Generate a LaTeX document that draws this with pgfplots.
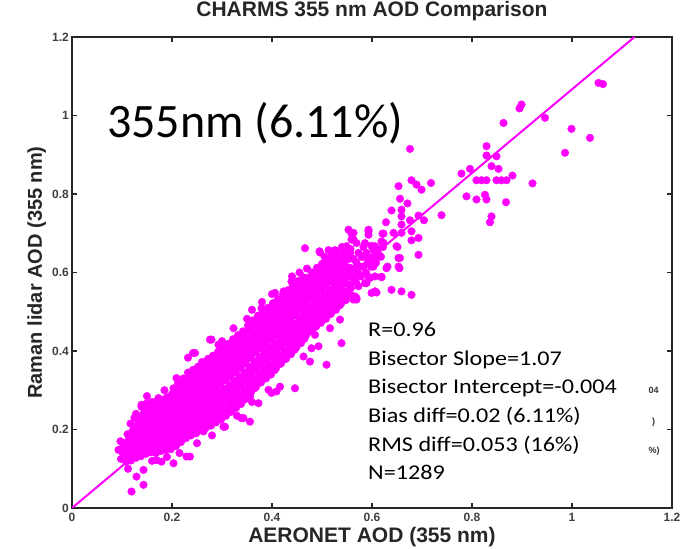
\documentclass[border=0pt]{standalone}
\usepackage{pgfplots}
\pgfplotsset{compat=1.18}
\usepackage{fontspec}
\setmainfont{Liberation Sans}
\newfontfamily\arialfont{Liberation Sans}
\newfontfamily\calfont{Carlito}
\definecolor{mag}{RGB}{255,0,255}
\begin{document}
\begin{tikzpicture}
\path[use as bounding box] (0,0) rectangle (694pt,549pt);
\begin{axis}[
  at={(72pt,41pt)}, anchor=south west,
  width=600pt, height=471pt, scale only axis,
  xmin=0, xmax=1.2, ymin=0, ymax=1.2,
  axis line style={black!85, line width=2pt},
  xtick={0,0.2,0.4,0.6,0.8,1,1.2},
  ytick={0,0.2,0.4,0.6,0.8,1,1.2},
  xticklabels={0,0.2,0.4,0.6,0.8,1,1.2},
  yticklabels={0,0.2,0.4,0.6,0.8,1,1.2},
  tick align=inside,
  major tick length=5pt,
  tick style={black!85, line width=1.3pt},
  /pgf/number format/assume math mode=true,
  ticklabel style={font=\arialfont\bfseries\fontsize{12}{14}\selectfont, text=black!75},
  xticklabel style={inner sep=0pt, yshift=-5pt},
  yticklabel style={inner sep=0pt, xshift=-3pt},
  title={CHARMS 355 nm AOD Comparison},
  title style={font=\arialfont\bfseries\fontsize{21}{24}\selectfont, text=black!85, at={(axis description cs:0.5,1)}, anchor=base, inner sep=0pt, yshift=14pt},
  xlabel={AERONET AOD (355 nm)},
  xlabel style={font=\arialfont\bfseries\fontsize{21}{25}\selectfont, text=black!85, at={(axis description cs:0.5,0)}, anchor=base, inner sep=0pt, yshift=-35pt},
  ylabel={Raman lidar AOD (355 nm)},
  ylabel style={font=\arialfont\bfseries\fontsize{20}{24}\selectfont, text=black!85, at={([xshift=-30pt]axis description cs:0,0.5)}, anchor=base, inner sep=0pt},
  clip=true,
]
\addplot[mag, line width=2pt, no marks] coordinates {(0,0) (1.125,1.2)};
\addplot[only marks, mark=*, mark size=3.8pt, mag, mark options={draw=mag, fill=mag}] coordinates {
(0.098,0.125)(0.101,0.142)(0.104,0.160)(0.097,0.170)
(0.108,0.118)(0.112,0.135)(0.109,0.152)(0.113,0.171)(0.111,0.188)
(0.118,0.121)(0.122,0.140)(0.119,0.158)(0.124,0.176)(0.121,0.196)(0.117,0.215)
(0.128,0.128)(0.131,0.146)(0.127,0.165)(0.133,0.183)(0.129,0.202)(0.132,0.222)(0.128,0.240)
(0.138,0.132)(0.142,0.150)(0.139,0.170)(0.143,0.188)(0.137,0.207)(0.141,0.226)(0.144,0.244)(0.139,0.258)
(0.148,0.138)(0.152,0.156)(0.149,0.174)(0.153,0.193)(0.147,0.211)(0.151,0.230)(0.154,0.248)(0.149,0.266)
(0.158,0.142)(0.162,0.160)(0.159,0.179)(0.163,0.197)(0.157,0.215)(0.161,0.234)(0.164,0.252)(0.160,0.270)
(0.168,0.140)(0.172,0.158)(0.169,0.177)(0.173,0.196)(0.167,0.214)(0.171,0.233)(0.174,0.251)(0.170,0.272)
(0.178,0.145)(0.182,0.164)(0.179,0.183)(0.183,0.202)(0.177,0.220)(0.181,0.239)(0.184,0.257)(0.180,0.276)
(0.188,0.148)(0.192,0.167)(0.189,0.186)(0.193,0.205)(0.187,0.224)(0.191,0.243)(0.194,0.262)(0.190,0.282)
(0.198,0.150)(0.202,0.170)(0.199,0.190)(0.203,0.210)(0.197,0.229)(0.201,0.249)(0.204,0.268)(0.200,0.290)(0.203,0.305)
(0.208,0.158)(0.212,0.177)(0.209,0.196)(0.213,0.216)(0.207,0.235)(0.211,0.255)(0.214,0.274)(0.210,0.294)(0.212,0.318)
(0.218,0.168)(0.222,0.188)(0.219,0.207)(0.223,0.227)(0.217,0.246)(0.221,0.266)(0.224,0.285)(0.220,0.305)(0.223,0.330)
(0.228,0.178)(0.232,0.198)(0.229,0.218)(0.233,0.238)(0.227,0.258)(0.231,0.278)(0.234,0.298)(0.230,0.318)(0.232,0.345)
(0.238,0.185)(0.242,0.205)(0.239,0.226)(0.243,0.246)(0.237,0.266)(0.241,0.287)(0.244,0.307)(0.240,0.328)(0.242,0.352)
(0.248,0.190)(0.252,0.211)(0.249,0.232)(0.253,0.252)(0.247,0.273)(0.251,0.294)(0.254,0.314)(0.250,0.335)(0.252,0.360)
(0.258,0.198)(0.262,0.219)(0.259,0.240)(0.263,0.261)(0.257,0.282)(0.261,0.303)(0.264,0.323)(0.260,0.344)(0.262,0.368)
(0.268,0.205)(0.272,0.226)(0.269,0.248)(0.273,0.269)(0.267,0.290)(0.271,0.311)(0.274,0.332)(0.270,0.353)(0.272,0.380)
(0.278,0.210)(0.282,0.232)(0.279,0.254)(0.283,0.276)(0.277,0.298)(0.281,0.320)(0.284,0.341)(0.280,0.362)(0.282,0.388)
(0.288,0.218)(0.292,0.240)(0.289,0.262)(0.293,0.284)(0.287,0.306)(0.291,0.328)(0.294,0.350)(0.290,0.372)(0.292,0.398)
(0.298,0.225)(0.302,0.248)(0.299,0.270)(0.303,0.292)(0.297,0.315)(0.301,0.337)(0.304,0.359)(0.300,0.382)(0.302,0.408)
(0.308,0.235)(0.312,0.258)(0.309,0.280)(0.313,0.302)(0.307,0.325)(0.311,0.347)(0.314,0.369)(0.310,0.392)(0.312,0.418)
(0.318,0.245)(0.322,0.268)(0.319,0.290)(0.323,0.313)(0.317,0.335)(0.321,0.358)(0.324,0.380)(0.320,0.403)(0.322,0.430)
(0.328,0.255)(0.332,0.278)(0.329,0.300)(0.333,0.323)(0.327,0.346)(0.331,0.368)(0.334,0.391)(0.330,0.414)(0.332,0.440)
(0.338,0.265)(0.342,0.288)(0.339,0.311)(0.343,0.334)(0.337,0.357)(0.341,0.380)(0.344,0.402)(0.340,0.425)(0.342,0.450)
(0.348,0.280)(0.352,0.303)(0.349,0.326)(0.353,0.349)(0.347,0.372)(0.351,0.395)(0.354,0.418)(0.350,0.441)(0.352,0.465)
(0.358,0.295)(0.362,0.318)(0.359,0.340)(0.363,0.363)(0.357,0.386)(0.361,0.409)(0.364,0.432)(0.360,0.455)(0.362,0.478)
(0.368,0.308)(0.372,0.330)(0.369,0.352)(0.373,0.375)(0.367,0.398)(0.371,0.420)(0.374,0.443)(0.370,0.466)(0.372,0.490)
(0.378,0.320)(0.382,0.342)(0.379,0.364)(0.383,0.387)(0.377,0.409)(0.381,0.431)(0.384,0.454)(0.380,0.476)(0.382,0.500)
(0.388,0.330)(0.392,0.352)(0.389,0.375)(0.393,0.397)(0.387,0.420)(0.391,0.442)(0.394,0.465)(0.390,0.487)(0.392,0.510)
(0.398,0.340)(0.402,0.362)(0.399,0.385)(0.403,0.408)(0.397,0.430)(0.401,0.453)(0.404,0.476)(0.400,0.498)(0.402,0.522)
(0.408,0.356)(0.412,0.378)(0.409,0.400)(0.413,0.422)(0.407,0.444)(0.411,0.466)(0.414,0.488)(0.410,0.510)(0.412,0.532)
(0.418,0.368)(0.422,0.390)(0.419,0.412)(0.423,0.434)(0.417,0.456)(0.421,0.478)(0.424,0.500)(0.420,0.522)(0.422,0.544)
(0.428,0.380)(0.432,0.402)(0.429,0.424)(0.433,0.446)(0.427,0.468)(0.431,0.490)(0.434,0.512)(0.430,0.534)(0.432,0.555)
(0.438,0.392)(0.442,0.414)(0.439,0.436)(0.443,0.458)(0.437,0.480)(0.441,0.502)(0.444,0.524)(0.440,0.546)(0.442,0.566)
(0.448,0.408)(0.452,0.430)(0.449,0.451)(0.453,0.473)(0.447,0.494)(0.451,0.516)(0.454,0.537)(0.450,0.558)(0.452,0.578)
(0.458,0.420)(0.462,0.442)(0.459,0.463)(0.463,0.485)(0.457,0.506)(0.461,0.528)(0.464,0.549)(0.460,0.570)(0.462,0.588)
(0.468,0.440)(0.472,0.461)(0.469,0.482)(0.473,0.503)(0.467,0.524)(0.471,0.545)(0.474,0.566)(0.470,0.586)
(0.478,0.450)(0.482,0.471)(0.479,0.492)(0.483,0.513)(0.477,0.534)(0.481,0.555)(0.484,0.576)(0.480,0.600)
(0.488,0.462)(0.492,0.483)(0.489,0.504)(0.493,0.525)(0.487,0.546)(0.491,0.567)(0.494,0.588)(0.490,0.612)
(0.498,0.472)(0.502,0.493)(0.499,0.514)(0.503,0.535)(0.497,0.556)(0.501,0.577)(0.504,0.598)(0.500,0.622)
(0.508,0.482)(0.512,0.503)(0.509,0.524)(0.513,0.545)(0.507,0.566)(0.511,0.587)(0.514,0.608)(0.510,0.632)
(0.518,0.495)(0.522,0.516)(0.519,0.537)(0.523,0.558)(0.517,0.579)(0.521,0.600)(0.524,0.621)(0.520,0.642)
(0.528,0.505)(0.532,0.526)(0.529,0.547)(0.533,0.568)(0.527,0.589)(0.531,0.610)(0.534,0.631)(0.530,0.652)
(0.538,0.520)(0.542,0.541)(0.539,0.562)(0.543,0.583)(0.537,0.604)(0.541,0.625)(0.544,0.646)(0.540,0.665)
(0.548,0.530)(0.552,0.551)(0.549,0.572)(0.553,0.593)(0.547,0.614)(0.551,0.635)(0.554,0.656)
(0.558,0.560)(0.562,0.585)(0.559,0.610)(0.563,0.635)(0.557,0.660)
(0.568,0.575)(0.572,0.600)(0.569,0.625)(0.573,0.650)
(0.578,0.590)(0.582,0.615)(0.579,0.640)(0.583,0.665)
(0.588,0.600)(0.592,0.625)(0.589,0.650)
(0.598,0.615)(0.602,0.640)(0.599,0.668)
(0.608,0.625)(0.612,0.650)
(0.618,0.640)(0.622,0.665)
(0.105,0.133)(0.105,0.151)(0.105,0.165)
(0.115,0.127)(0.115,0.144)(0.115,0.162)(0.115,0.180)
(0.125,0.131)(0.125,0.149)(0.125,0.167)(0.125,0.186)(0.125,0.206)
(0.135,0.137)(0.135,0.156)(0.135,0.175)(0.135,0.193)(0.135,0.212)(0.135,0.231)
(0.145,0.141)(0.145,0.160)(0.145,0.179)(0.145,0.198)(0.145,0.217)(0.145,0.236)(0.145,0.253)
(0.155,0.147)(0.155,0.165)(0.155,0.183)(0.155,0.202)(0.155,0.221)(0.155,0.239)(0.155,0.257)
(0.165,0.151)(0.165,0.169)(0.165,0.188)(0.165,0.206)(0.165,0.225)(0.165,0.243)(0.165,0.261)
(0.175,0.149)(0.175,0.168)(0.175,0.186)(0.175,0.205)(0.175,0.224)(0.175,0.242)(0.175,0.262)
(0.185,0.155)(0.185,0.173)(0.185,0.192)(0.185,0.211)(0.185,0.229)(0.185,0.248)(0.185,0.266)
(0.195,0.158)(0.195,0.177)(0.195,0.196)(0.195,0.214)(0.195,0.233)(0.195,0.252)(0.195,0.272)
(0.205,0.160)(0.205,0.180)(0.205,0.200)(0.205,0.219)(0.205,0.239)(0.205,0.258)(0.205,0.279)(0.205,0.297)
(0.215,0.167)(0.215,0.187)(0.215,0.206)(0.215,0.225)(0.215,0.245)(0.215,0.264)(0.215,0.284)(0.215,0.306)
(0.225,0.178)(0.225,0.197)(0.225,0.217)(0.225,0.236)(0.225,0.256)(0.225,0.275)(0.225,0.295)(0.225,0.317)
(0.235,0.188)(0.235,0.208)(0.235,0.228)(0.235,0.248)(0.235,0.268)(0.235,0.288)(0.235,0.308)(0.235,0.331)
(0.245,0.195)(0.245,0.215)(0.245,0.236)(0.245,0.256)(0.245,0.276)(0.245,0.297)(0.245,0.317)(0.245,0.340)
(0.255,0.200)(0.255,0.221)(0.255,0.242)(0.255,0.262)(0.255,0.283)(0.255,0.304)(0.255,0.324)(0.255,0.347)
(0.265,0.208)(0.265,0.229)(0.265,0.250)(0.265,0.271)(0.265,0.292)(0.265,0.313)(0.265,0.333)(0.265,0.356)
(0.275,0.215)(0.275,0.237)(0.275,0.258)(0.275,0.279)(0.275,0.300)(0.275,0.321)(0.275,0.342)(0.275,0.366)
(0.285,0.221)(0.285,0.243)(0.285,0.265)(0.285,0.287)(0.285,0.309)(0.285,0.330)(0.285,0.351)(0.285,0.375)
(0.295,0.229)(0.295,0.251)(0.295,0.273)(0.295,0.295)(0.295,0.317)(0.295,0.339)(0.295,0.361)(0.295,0.385)
(0.305,0.236)(0.305,0.258)(0.305,0.281)(0.305,0.303)(0.305,0.326)(0.305,0.348)(0.305,0.370)(0.305,0.395)
(0.315,0.246)(0.315,0.269)(0.315,0.291)(0.315,0.313)(0.315,0.336)(0.315,0.358)(0.315,0.380)(0.315,0.405)
(0.325,0.256)(0.325,0.279)(0.325,0.301)(0.325,0.324)(0.325,0.346)(0.325,0.369)(0.325,0.391)(0.325,0.416)
(0.335,0.266)(0.335,0.289)(0.335,0.311)(0.335,0.334)(0.335,0.357)(0.335,0.379)(0.335,0.402)(0.335,0.427)
(0.345,0.276)(0.345,0.299)(0.345,0.322)(0.345,0.345)(0.345,0.368)(0.345,0.391)(0.345,0.413)(0.345,0.437)
(0.355,0.291)(0.355,0.314)(0.355,0.337)(0.355,0.360)(0.355,0.383)(0.355,0.406)(0.355,0.429)(0.355,0.453)
(0.365,0.305)(0.365,0.328)(0.365,0.351)(0.365,0.374)(0.365,0.397)(0.365,0.420)(0.365,0.443)(0.365,0.467)
(0.375,0.319)(0.375,0.341)(0.375,0.363)(0.375,0.386)(0.375,0.409)(0.375,0.431)(0.375,0.454)(0.375,0.478)
(0.385,0.331)(0.385,0.353)(0.385,0.375)(0.385,0.398)(0.385,0.420)(0.385,0.442)(0.385,0.465)(0.385,0.488)
(0.395,0.341)(0.395,0.363)(0.395,0.386)(0.395,0.408)(0.395,0.431)(0.395,0.453)(0.395,0.476)(0.395,0.498)
(0.405,0.351)(0.405,0.373)(0.405,0.396)(0.405,0.419)(0.405,0.441)(0.405,0.464)(0.405,0.487)(0.405,0.510)
(0.415,0.367)(0.415,0.389)(0.415,0.411)(0.415,0.433)(0.415,0.455)(0.415,0.477)(0.415,0.499)(0.415,0.521)
(0.425,0.379)(0.425,0.401)(0.425,0.423)(0.425,0.445)(0.425,0.467)(0.425,0.489)(0.425,0.511)(0.425,0.533)
(0.435,0.391)(0.435,0.413)(0.435,0.435)(0.435,0.457)(0.435,0.479)(0.435,0.501)(0.435,0.523)(0.435,0.545)
(0.445,0.403)(0.445,0.425)(0.445,0.447)(0.445,0.469)(0.445,0.491)(0.445,0.513)(0.445,0.535)(0.445,0.556)
(0.455,0.419)(0.455,0.441)(0.455,0.462)(0.455,0.484)(0.455,0.505)(0.455,0.527)(0.455,0.548)(0.455,0.568)
(0.465,0.431)(0.465,0.452)(0.465,0.474)(0.465,0.495)(0.465,0.517)(0.465,0.538)(0.465,0.559)(0.465,0.579)
(0.475,0.450)(0.475,0.471)(0.475,0.492)(0.475,0.513)(0.475,0.534)(0.475,0.555)(0.475,0.576)
(0.485,0.461)(0.485,0.482)(0.485,0.503)(0.485,0.524)(0.485,0.545)(0.485,0.566)(0.485,0.588)
(0.495,0.472)(0.495,0.493)(0.495,0.514)(0.495,0.535)(0.495,0.556)(0.495,0.577)(0.495,0.600)
(0.505,0.482)(0.505,0.503)(0.505,0.524)(0.505,0.545)(0.505,0.566)(0.505,0.587)(0.505,0.610)
(0.515,0.493)(0.515,0.514)(0.515,0.535)(0.515,0.556)(0.515,0.577)(0.515,0.598)(0.515,0.620)
(0.525,0.505)(0.525,0.526)(0.525,0.547)(0.525,0.568)(0.525,0.589)(0.525,0.610)(0.525,0.632)
(0.535,0.516)(0.535,0.537)(0.535,0.558)(0.535,0.579)(0.535,0.600)(0.535,0.621)(0.535,0.642)
(0.545,0.530)(0.545,0.551)(0.545,0.572)(0.545,0.593)(0.545,0.614)(0.545,0.635)(0.545,0.655)
(0.555,0.545)(0.555,0.568)(0.555,0.590)(0.555,0.612)(0.555,0.635)
(0.125,0.230)(0.150,0.285)(0.185,0.300)(0.160,0.120)(0.190,0.130)(0.215,0.140)(0.250,0.165)(0.280,0.185)(0.330,0.235)(0.360,0.270)
(0.260,0.372)(0.300,0.425)(0.350,0.482)(0.400,0.545)(0.440,0.590)(0.360,0.505)(0.380,0.525)(0.455,0.600)(0.470,0.610)(0.505,0.640)
(1.053,1.083)(1.062,1.080)(0.899,1.028)(0.895,1.018)(0.946,0.994)(0.999,0.966)(1.036,0.943)(0.986,0.905)(0.863,0.981)(0.829,0.922)
(0.829,0.898)(0.849,0.896)(0.839,0.871)(0.853,0.864)(0.796,0.864)(0.779,0.852)(0.809,0.835)(0.819,0.835)(0.829,0.835)(0.849,0.835)
(0.859,0.835)(0.869,0.835)(0.881,0.847)(0.921,0.827)(0.789,0.794)(0.809,0.786)(0.826,0.798)(0.829,0.786)(0.868,0.779)(0.839,0.743)
(0.836,0.728)(0.739,0.746)(0.676,0.915)(0.679,0.835)(0.689,0.824)(0.699,0.811)(0.718,0.828)(0.653,0.820)(0.656,0.788)(0.671,0.776)
(0.639,0.758)(0.659,0.760)(0.659,0.743)(0.628,0.728)(0.659,0.722)(0.676,0.733)(0.693,0.745)(0.704,0.733)(0.593,0.709)(0.623,0.699)
(0.643,0.701)(0.659,0.701)(0.679,0.705)(0.693,0.688)(0.679,0.682)(0.563,0.701)(0.586,0.675)(0.606,0.667)(0.623,0.675)(0.649,0.667)
(0.693,0.645)(0.656,0.637)(0.655,0.611)(0.629,0.611)(0.619,0.588)(0.596,0.586)(0.586,0.573)(0.573,0.565)(0.599,0.548)(0.609,0.549)
(0.639,0.556)(0.659,0.552)(0.679,0.543)(0.563,0.539)(0.569,0.531)
(0.553,0.709)(0.559,0.699)(0.563,0.684)(0.593,0.696)(0.621,0.699)(0.619,0.679)(0.651,0.665)(0.609,0.662)
(0.466,0.662)(0.495,0.654)(0.513,0.657)(0.526,0.657)(0.549,0.662)(0.556,0.650)
(0.519,0.640)(0.536,0.640)(0.583,0.640)(0.593,0.633)(0.603,0.633)(0.616,0.641)(0.653,0.637)
(0.519,0.615)(0.543,0.615)(0.553,0.607)(0.573,0.615)(0.583,0.615)(0.603,0.615)(0.631,0.615)(0.653,0.615)
(0.483,0.589)(0.503,0.589)(0.536,0.589)(0.546,0.589)(0.566,0.589)(0.593,0.589)(0.619,0.589)
(0.543,0.539)(0.566,0.539)(0.509,0.518)
(0.496,0.651)(0.549,0.667)(0.559,0.684)(0.569,0.675)(0.529,0.624)(0.546,0.628)(0.603,0.658)(0.593,0.705)
(0.439,0.577)(0.456,0.573)(0.476,0.586)(0.506,0.599)(0.523,0.590)
(0.406,0.548)(0.423,0.552)(0.443,0.539)(0.463,0.526)(0.486,0.539)(0.506,0.565)(0.529,0.569)(0.549,0.543)(0.569,0.535)(0.589,0.573)(0.606,0.590)(0.606,0.552)
(0.379,0.509)(0.409,0.505)(0.436,0.509)(0.469,0.514)(0.536,0.526)(0.563,0.531)
(0.496,0.480)(0.516,0.458)(0.536,0.480)(0.486,0.441)(0.539,0.420)(0.479,0.407)(0.463,0.386)(0.476,0.373)(0.509,0.365)(0.446,0.305)
(0.416,0.309)(0.393,0.301)(0.399,0.293)(0.356,0.284)(0.373,0.267)(0.493,0.412)(0.409,0.297)(0.356,0.220)(0.339,0.229)(0.343,0.229)
(0.306,0.207)(0.263,0.195)(0.269,0.212)(0.303,0.207)(0.236,0.131)(0.229,0.131)(0.203,0.114)(0.179,0.118)(0.169,0.122)(0.143,0.097)
(0.323,0.458)(0.276,0.429)(0.293,0.416)(0.279,0.429)(0.242,0.395)(0.232,0.383)(0.246,0.395)(0.209,0.331)(0.173,0.280)(0.139,0.263)
(0.119,0.042)(0.143,0.059)(0.129,0.080)(0.093,0.148)(0.102,0.156)(0.112,0.100)
};
\fill[white] (axis cs:0.58,0.02) rectangle (axis cs:1.152,0.518);
\node[anchor=base west, inner sep=0pt, font=\arialfont\bfseries\fontsize{9}{10}\selectfont, text=black!80] at (axis cs:1.153,0.291) {04};
\node[anchor=base west, inner sep=0pt, font=\arialfont\bfseries\fontsize{9}{10}\selectfont, text=black!80] at (axis cs:1.160,0.212) {)};
\node[anchor=base west, inner sep=0pt, font=\arialfont\bfseries\fontsize{9}{10}\selectfont, text=black!80] at (axis cs:1.153,0.140) {\%)};
\node[anchor=base west, inner sep=0pt, font=\calfont\fontsize{48}{50}\selectfont] at (axis cs:0.07,0.944) {355nm (6.11\%)};
\begin{scope}[every node/.style={anchor=base west, inner sep=0pt, xscale=1.15, font=\calfont\fontsize{21}{26}\selectfont}]
\node at (axis cs:0.592,0.436) {R=0.96};
\node at (axis cs:0.592,0.364) {Bisector Slope=1.07};
\node at (axis cs:0.592,0.291) {Bisector Intercept=-0.004};
\node at (axis cs:0.592,0.218) {Bias diff=0.02 (6.11\%)};
\node at (axis cs:0.592,0.145) {RMS diff=0.053 (16\%)};
\node at (axis cs:0.592,0.073) {N=1289};
\end{scope}
\end{axis}
\end{tikzpicture}
\end{document}
